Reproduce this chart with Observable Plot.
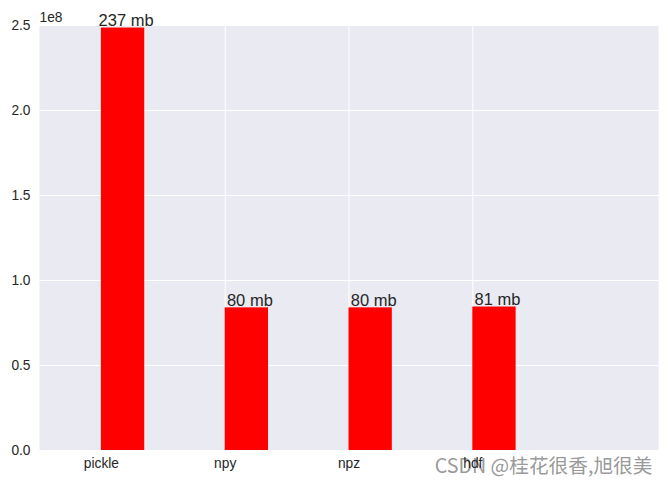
<!DOCTYPE html>
<html>
<head>
<meta charset="utf-8">
<script src="https://cdn.jsdelivr.net/npm/d3@7"></script>
<script src="https://cdn.jsdelivr.net/npm/@observablehq/plot@0.6"></script>
<style>
  html, body { margin: 0; padding: 0; background: #fff; }
</style>
</head>
<body>
<div id="chart"></div>
<script>
const names = ["pickle", "npy", "npz", "hdf"];
const positions = [0, 1, 2, 3];
const sizes = [248.5e6, 83.9e6, 83.9e6, 84.4e6];
const sizeLabels = ["237 mb", "80 mb", "80 mb", "81 mb"];
const yTicks = [0, 0.5e8, 1.0e8, 1.5e8, 2.0e8, 2.5e8];
const barWidth = 0.35;
const exponentLabel = "1e8";
const watermark = "CSDN @桂花很香,旭很美";

const data = names.map((n, i) => ({ name: n, pos: positions[i], size: sizes[i], label: sizeLabels[i] }));

const chart = Plot.plot({
  width: 668,
  height: 485,
  marginLeft: 39,
  marginRight: 10,
  marginTop: 25,
  marginBottom: 35,
  style: { fontFamily: "Liberation Sans, Arial, sans-serif", fontSize: "13.75px", color: "#262626", background: "#fff" },
  x: { type: "linear", domain: [-0.5, 4.5], axis: null },
  y: { domain: [0, 2.5e8], axis: null },
  marks: [
    Plot.frame({ fill: "#EAEAF2", stroke: null }),
    Plot.gridX(positions, { stroke: "white", strokeOpacity: 1, strokeWidth: 1 }),
    Plot.gridY(yTicks, { stroke: "white", strokeOpacity: 1, strokeWidth: 1 }),
    Plot.rectY(data, { x1: d => d.pos, x2: d => d.pos + barWidth, y1: 0, y2: "size", fill: "#FF0000" }),
    Plot.text(data, { x: d => d.pos + barWidth / 2, y: "size", text: "label", dx: 3, dy: -2, lineAnchor: "bottom", fontSize: 16.5, fill: "#262626" }),
    Plot.text([watermark], { frameAnchor: "bottom-right", text: d => d, textAnchor: "end", lineAnchor: "middle", dx: -6, dy: 16, fontSize: 19.7, fill: "#8c8c8c", fillOpacity: 0.9, fontFamily: "Noto Sans CJK SC, sans-serif" }),
    Plot.axisX(positions, { tickSize: 0, tickPadding: 8, tickFormat: i => names[i], fill: "#262626", fontSize: 13.75, label: null }),
    Plot.axisY(yTicks, { tickSize: 0, tickPadding: 9, tickFormat: v => (v / 1e8).toFixed(1), fill: "#262626", fontSize: 13.75, label: null }),
    Plot.text([exponentLabel], { frameAnchor: "top-left", text: d => d, textAnchor: "start", lineAnchor: "bottom", dy: -4, fontSize: 13.75, fill: "#262626" })
  ]
});
document.getElementById("chart").appendChild(chart);
</script>
</body>
</html>
